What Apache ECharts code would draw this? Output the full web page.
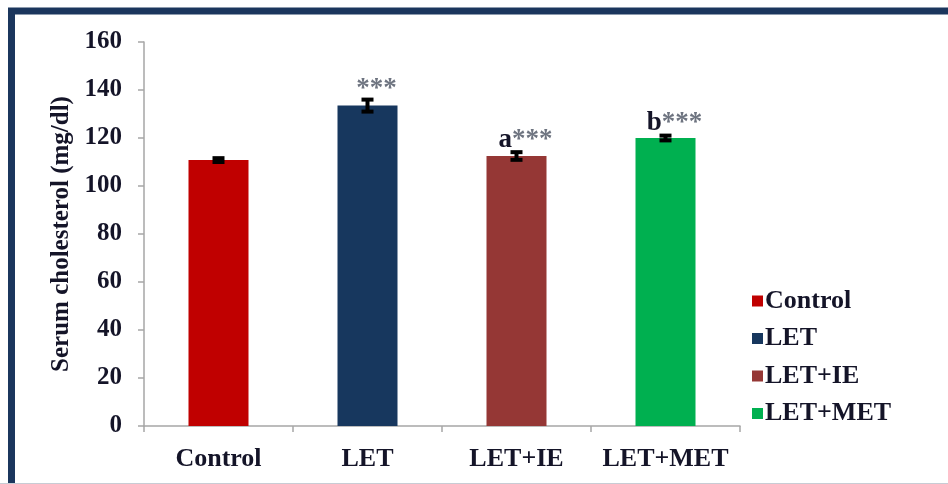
<!DOCTYPE html>
<html><head><meta charset="utf-8">
<script src="https://cdn.jsdelivr.net/npm/echarts@6/dist/echarts.min.js"></script>
<style>html,body{margin:0;padding:0;background:#fff}#c{width:948px;height:484px}</style>
</head><body><div id="c"></div>
<script>
const categories = ['Control', 'LET', 'LET+IE', 'LET+MET'];
const means = [110.8, 133.5, 112.5, 120.0];
const errors = [0.8, 2.5, 1.6, 1.0];
const letters = ['', '', 'a', 'b'];
const stars = ['', '***', '***', '***'];
const colors = ['#C00000', '#17375E', '#953735', '#00B050'];
const yTicks = {min: 0, max: 160, interval: 20};

const font = '"Liberation Serif", "Times New Roman", serif';
const chart = echarts.init(document.getElementById('c'));

const barSeries = categories.map((name, i) => ({
  name: name,
  type: 'bar',
  stack: 'all',
  barWidth: 60,
  itemStyle: {color: colors[i]},
  data: categories.map((c, j) => j === i ? means[j] : '-'),
  silent: true
}));

const errData = categories.map((c, i) => [i, means[i], errors[i], letters[i], stars[i]]);

chart.setOption({
  animation: false,
  backgroundColor: '#fff',
  graphic: [
    {type: 'rect', shape: {x: 11.5, y: 11, width: 1000, height: 600}, style: {fill: 'none', stroke: '#1B365D', lineWidth: 7}, z: 100},
    {type: 'line', shape: {x1: 0, y1: 483.5, x2: 948, y2: 483.5}, style: {stroke: '#C8CCD4', lineWidth: 1}, z: 100}
  ],
  grid: {left: 144, right: 208, top: 42, bottom: 58},
  legend: {
    orient: 'vertical', left: 747, top: 283, itemWidth: 11, itemHeight: 11, itemGap: 11.5,
    icon: 'rect',
    data: categories,
    textStyle: {fontFamily: font, fontWeight: 'bold', fontSize: 26, lineHeight: 26, color: '#141428', padding: [0, 0, 0, -3]}
  },
  xAxis: {
    type: 'category', data: categories,
    axisLine: {lineStyle: {color: '#A6A6A6', width: 1.5}},
    axisTick: {show: true, length: 6, lineStyle: {color: '#A6A6A6', width: 1.5}},
    axisLabel: {interval: 0, hideOverlap: false, fontFamily: font, fontWeight: 'bold', fontSize: 26, color: '#141428', margin: 20}
  },
  yAxis: {
    type: 'value', min: yTicks.min, max: yTicks.max, interval: yTicks.interval,
    name: 'Serum cholesterol (mg/dl)', nameLocation: 'middle', nameGap: 70, nameRotate: 90,
    nameTextStyle: {fontFamily: font, fontWeight: 'bold', fontSize: 25, color: '#141428'},
    axisLine: {show: true, lineStyle: {color: '#A6A6A6', width: 1.5}},
    axisTick: {show: true, length: 6, lineStyle: {color: '#A6A6A6', width: 1.5}},
    splitLine: {show: false},
    axisLabel: {fontFamily: font, fontWeight: 'bold', fontSize: 25, color: '#141428', margin: 22}
  },
  series: barSeries.concat([{
    type: 'custom',
    data: errData,
    z: 10,
    silent: true,
    renderItem: function (params, api) {
      const x = api.value(0), m = api.value(1), e = api.value(2);
      const top = api.coord([x, m + e]);
      const bot = api.coord([x, m - e]);
      const hw = 6;
      const children = [
        {type: 'line', shape: {x1: top[0], y1: top[1], x2: bot[0], y2: bot[1]}, style: {stroke: '#000', lineWidth: 4}},
        {type: 'line', shape: {x1: top[0] - hw, y1: top[1], x2: top[0] + hw, y2: top[1]}, style: {stroke: '#000', lineWidth: 4}},
        {type: 'line', shape: {x1: bot[0] - hw, y1: bot[1], x2: bot[0] + hw, y2: bot[1]}, style: {stroke: '#000', lineWidth: 4}}
      ];
      const letter = api.value(3), st = api.value(4);
      if (letter || st) {
        children.push({
          type: 'text',
          x: top[0] + 9, y: top[1] + (letter ? 1 : 3),
          style: {
            text: (letter ? '{l|' + letter + '}' : '') + (st ? '{s|' + st + '}' : ''),
            align: 'center', verticalAlign: 'bottom',
            rich: {
              l: {fontFamily: font, fontWeight: 'bold', fontSize: 27, fill: '#141428'},
              s: {fontFamily: font, fontWeight: 'bold', fontSize: 27, fill: '#6E7480'}
            }
          }
        });
      }
      return {type: 'group', children: children};
    }
  }])
});
</script>
</body></html>
